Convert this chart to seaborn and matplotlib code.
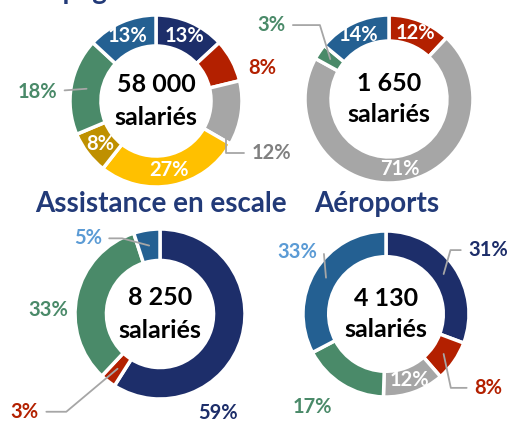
import numpy as np
import matplotlib
matplotlib.use('Agg')
import matplotlib.pyplot as plt
import seaborn as sns

# Data
titles = ['Compagnies aériennes', 'Maintenance', 'Assistance en escale', 'Aéroports']
totals = ['58 000', '1 650', '8 250', '4 130']

shares_compagnies = [13, 8, 12, 27, 8, 18, 13]
shares_maintenance = [12, 71, 3, 14]
shares_assistance = [59, 3, 33, 5]
shares_aeroports = [31, 8, 12, 17, 33]

# Colours
NAVY = '#1d2e6a'
RED = '#b32000'
GRAY = '#a6a6a6'
GOLD = '#ffc000'
DKGOLD = '#bf9000'
GREEN = '#4a8a69'
BLUE = '#246092'
LIGHTBLUE = '#5b9bd5'
TITLE = '#223a78'

colors_compagnies = [NAVY, RED, GRAY, GOLD, DKGOLD, GREEN, BLUE]
colors_maintenance = [RED, GRAY, GREEN, BLUE]
colors_assistance = [NAVY, RED, GREEN, BLUE]
colors_aeroports = [NAVY, RED, GRAY, GREEN, BLUE]

# Label layout: ('in',) -> white label on the ring
# ('out', x, y, color) -> label outside, no leader
# ('lead', x, y, color, angleB) -> label outside with leader line
labels_compagnies = [('in',), ('out', 1.24, 0.38, RED), ('lead', 1.34, -0.60, '#808080', 90),
                     ('in',), ('in',), ('lead', -1.38, 0.10, GREEN, None), ('in',)]
labels_maintenance = [('in',), ('in',), ('lead', -1.40, 0.88, GREEN, 107), ('in',)]
labels_assistance = [('out', 0.68, -1.17, NAVY), ('lead', -1.59, -1.15, RED, 40),
                     ('out', -1.32, 0.05, GREEN), ('lead', -0.85, 0.89, LIGHTBLUE, 165)]
labels_aeroports = [('lead', 1.23, 0.77, NAVY, 74), ('lead', 1.23, -0.89, RED, -78),
                    ('in',), ('out', -0.89, -1.12, GREEN), ('lead', -1.07, 0.75, LIGHTBLUE, 95)]

W, H = 515, 421

charts = [
    dict(shares=shares_compagnies, colors=colors_compagnies, labels=labels_compagnies,
         center=(156, 101), r=86, width=0.36, title_xy=(144, -1)),
    dict(shares=shares_maintenance, colors=colors_maintenance, labels=labels_maintenance,
         center=(389, 99), r=84, width=0.31, title_xy=(391, -1)),
    dict(shares=shares_assistance, colors=colors_assistance, labels=labels_assistance,
         center=(160, 314), r=85, width=0.37, title_xy=(161, 212)),
    dict(shares=shares_aeroports, colors=colors_aeroports, labels=labels_aeroports,
         center=(386, 314), r=83, width=0.31, title_xy=(377, 212)),
]

sns.set_theme(style='white')
plt.rcParams['font.family'] = ['Lato', 'DejaVu Sans']

fig = plt.figure(figsize=(W / 100, H / 100), dpi=100)

for title, total, ch in zip(titles, totals, charts):
    cx, cy = ch['center']
    r = ch['r']
    ax = fig.add_axes([(cx - r) / W, 1 - (cy + r) / H, 2 * r / W, 2 * r / H])
    palette = sns.color_palette(ch['colors'])
    wedges, _ = ax.pie(ch['shares'], colors=palette, startangle=90, counterclock=False,
                       wedgeprops=dict(width=ch['width'], edgecolor='white', linewidth=2.5))
    ax.set_xlim(-1, 1)
    ax.set_ylim(-1, 1)
    ax.set_aspect('equal')

    # mid angles of each wedge
    vals = np.array(ch['shares'], dtype=float)
    cum = np.cumsum(vals) / vals.sum()
    mids = (cum - vals / vals.sum() / 2) * 2 * np.pi
    rmid = 1 - ch['width'] / 2

    for v, ang, lab in zip(ch['shares'], mids, ch['labels']):
        txt = f'{v}%'
        px, py = np.sin(ang), np.cos(ang)
        if lab[0] == 'in':
            ax.text(rmid * px, rmid * py, txt, ha='center', va='center',
                    color='white', fontsize=14.5, fontweight='bold')
        elif lab[0] == 'out':
            ax.text(lab[1], lab[2], txt, ha='center', va='center',
                    color=lab[3], fontsize=14.5, fontweight='bold')
        else:
            conn = 'arc3' if lab[4] is None else f'angle,angleA=0,angleB={lab[4]},rad=0'
            ax.annotate(txt, xy=(rmid * px, rmid * py), xytext=(lab[1], lab[2]),
                        ha='center', va='center', color=lab[3], fontsize=14.5,
                        fontweight='bold',
                        arrowprops=dict(arrowstyle='-', color='#a6a6a6', lw=1.3,
                                        shrinkA=3, shrinkB=0, connectionstyle=conn))

    ax.text(0, 0.19, total, ha='center', va='center', fontsize=18,
            fontweight='bold', color='black')
    ax.text(0, -0.19, 'salariés', ha='center', va='center', fontsize=18,
            fontweight='bold', color='black')

    tx, ty = ch['title_xy']
    fig.text(tx / W, 1 - ty / H, title, ha='center', va='baseline',
             fontsize=20, fontweight='bold', color=TITLE)

fig.savefig('out.png', dpi=100)
